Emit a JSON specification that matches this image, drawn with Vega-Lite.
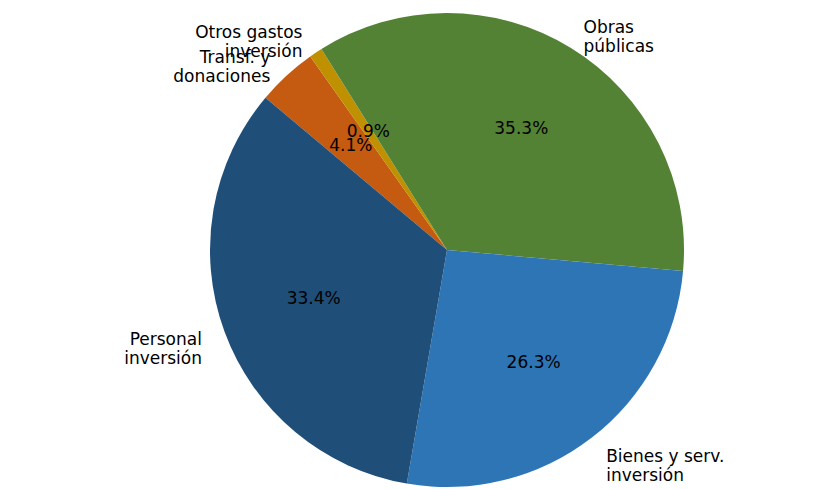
{
  "$schema": "https://vega.github.io/schema/vega-lite/v6.json",
  "width": 816,
  "height": 489,
  "autosize": {"type": "fit", "contains": "padding"},
  "padding": {"left": 78, "right": 0, "top": 11, "bottom": 0},
  "background": "white",
  "config": {"view": {"stroke": null}, "text": {"font": "DejaVu Sans"}},
  "data": {
    "values": [
      {"concepto": "Transf. y\ndonaciones", "valor": 0.041, "orden": 1},
      {"concepto": "Otros gastos\ninversión", "valor": 0.009, "orden": 2},
      {"concepto": "Obras\npúblicas", "valor": 0.353, "orden": 3},
      {"concepto": "Bienes y serv.\ninversión", "valor": 0.263, "orden": 4},
      {"concepto": "Personal\ninversión", "valor": 0.334, "orden": 5}
    ]
  },
  "encoding": {
    "theta": {"field": "valor", "type": "quantitative", "stack": true, "scale": {"range": [-0.8727, 5.4105]}},
    "order": {"field": "orden", "type": "quantitative"}
  },
  "layer": [
    {
      "mark": {"type": "arc", "outerRadius": 237, "stroke": null},
      "encoding": {
        "color": {
          "field": "concepto",
          "type": "nominal",
          "legend": null,
          "scale": {
            "domain": ["Transf. y\ndonaciones", "Otros gastos\ninversión", "Obras\npúblicas", "Bienes y serv.\ninversión", "Personal\ninversión"],
            "range": ["#C55A11", "#BF9000", "#548235", "#2E75B6", "#1F4E79"]
          }
        }
      }
    },
    {
      "mark": {"type": "text", "radius": 142, "fontSize": 17, "color": "black", "align": "center", "baseline": "middle"},
      "encoding": {"text": {"field": "valor", "type": "quantitative", "format": ".1%"}}
    },
    {
      "mark": {"type": "text", "radius": 261, "fontSize": 17, "color": "black", "align": "left", "baseline": "middle", "lineBreak": "\n"},
      "encoding": {
        "text": {
          "condition": {"test": "indexof(['Obras\\npúblicas', 'Bienes y serv.\\ninversión'], datum.concepto) >= 0", "field": "concepto"},
          "value": ""
        }
      }
    },
    {
      "mark": {"type": "text", "radius": 261, "fontSize": 17, "color": "black", "align": "right", "baseline": "middle", "lineBreak": "\n"},
      "encoding": {
        "text": {
          "condition": {"test": "indexof(['Obras\\npúblicas', 'Bienes y serv.\\ninversión'], datum.concepto) < 0", "field": "concepto"},
          "value": ""
        }
      }
    }
  ]
}
